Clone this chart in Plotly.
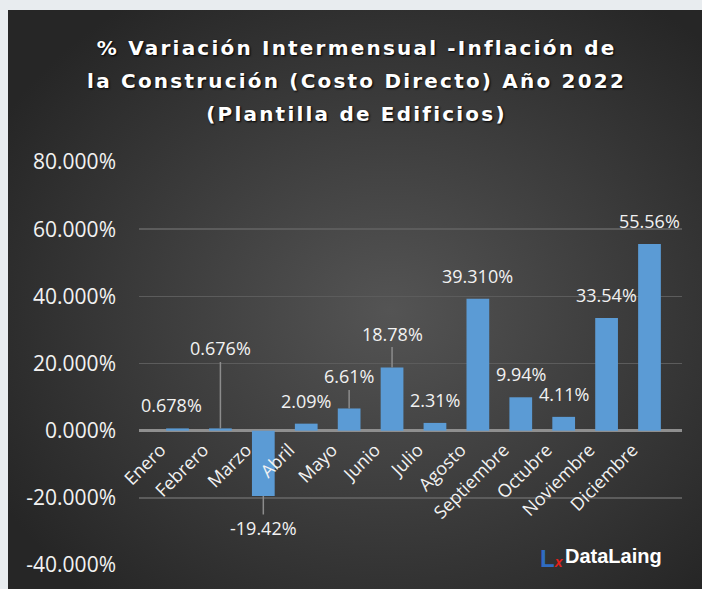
import base64
import plotly.graph_objects as go

# ---------------- data ----------------
months = ["Enero", "Febrero", "Marzo", "Abril", "Mayo", "Junio", "Julio",
          "Agosto", "Septiembre", "Octubre", "Noviembre", "Diciembre"]
variation_pct = [0.678, 0.676, -19.42, 2.09, 6.61, 18.78, 2.31,
                 39.31, 9.94, 4.11, 33.54, 55.56]
value_labels = ["0.678%", "0.676%", "-19.42%", "2.09%", "6.61%", "18.78%",
                "2.31%", "39.310%", "9.94%", "4.11%", "33.54%", "55.56%"]
y_ticks = [-40, -20, 0, 20, 40, 60, 80]
y_tick_labels = ["-40.000%", "-20.000%", "0.000%", "20.000%",
                 "40.000%", "60.000%", "80.000%"]
title_lines = ["% Variación Intermensual -Inflación de",
               "la Construción (Costo Directo) Año 2022",
               "(Plantilla de Edificios)"]

# ---------------- layout geometry (pixels) ----------------
W, H = 702, 589
L, R, T, B = 139, 20, 162, 24
PW, PH = W - L - R, H - T - B


def px_x(px):
    return (px - L) / PW


def px_y(py):
    return (H - B - py) / PH


# radial gradient panel background
svg = """<svg xmlns='http://www.w3.org/2000/svg' width='694' height='579' viewBox='0 0 694 579' preserveAspectRatio='none'>
<defs><radialGradient id='g' cx='55%' cy='52%' r='65%'>
<stop offset='0' stop-color='#545454'/>
<stop offset='1' stop-color='#262626'/>
</radialGradient></defs>
<rect width='694' height='579' fill='url(#g)'/></svg>"""
svg_uri = "data:image/svg+xml;base64," + base64.b64encode(svg.encode()).decode()

fig = go.Figure()
fig.add_trace(go.Bar(
    x=months, y=variation_pct,
    marker=dict(color="#5b9bd5", line=dict(width=0)),
    hoverinfo="skip",
))

# data labels
leader = {1: -80, 2: 32, 4: -32, 5: -34}
xshift = {0: -6}
annotations = []
for i, (m, v, lab) in enumerate(zip(months, variation_pct, value_labels)):
    if i in leader:
        annotations.append(dict(
            x=m, y=v, text=lab, showarrow=True, ax=0, ay=leader[i],
            arrowhead=0, arrowwidth=1.5, arrowcolor="#8c8c8c", standoff=0,
            font=dict(family="Open Sans", size=18, color="#f2f2f2")))
    else:
        annotations.append(dict(
            x=m, y=v, text=lab, showarrow=False, yanchor="middle",
            yshift=23, xshift=xshift.get(i, 0),
            font=dict(family="Open Sans", size=18, color="#f2f2f2")))

# title lines
for line, py in zip(title_lines, [48, 81, 114]):
    annotations.append(dict(
        xref="paper", yref="paper", x=px_x(356), y=px_y(py),
        text=f"<b>{line}</b>", showarrow=False, xanchor="center", yanchor="middle",
        font=dict(family="DejaVu Sans", size=20, color="#ffffff",
                  shadow="1px 1px 2px #000000")))

# logo
annotations.append(dict(
    xref="paper", yref="paper", x=px_x(539), y=px_y(558),
    text="<b><span style='color:#2f6cc2;font-size:24px'>L</span>"
         "<span style='color:#e3201b;font-size:14px'><i>x</i></span></b>",
    showarrow=False, xanchor="left", yanchor="middle", borderpad=0,
    font=dict(family="Liberation Sans", size=20, color="#ffffff")))
annotations.append(dict(
    xref="paper", yref="paper", x=px_x(564), y=px_y(556),
    text="<b>DataLaing</b>", showarrow=False, xanchor="left", yanchor="middle",
    borderpad=0,
    font=dict(family="Liberation Sans", size=20, color="#ffffff")))

fig.update_layout(
    width=W, height=H,
    margin=dict(l=L, r=R, t=T, b=B, pad=0),
    paper_bgcolor="#e8ecef",
    plot_bgcolor="rgba(0,0,0,0)",
    showlegend=False,
    bargap=0.47,
    annotations=annotations,
    images=[dict(source=svg_uri, xref="paper", yref="paper",
                 x=px_x(8), y=px_y(10), sizex=px_x(702) - px_x(8),
                 sizey=px_y(10) - px_y(589), xanchor="left", yanchor="top",
                 sizing="stretch", layer="below")],
    xaxis=dict(
        type="category", anchor="free", position=px_y(430),
        showgrid=False, showline=False, zeroline=False, ticks="",
        tickangle=-45, ticklabelstandoff=5, ticklabelshift=-17,
        tickfont=dict(family="Open Sans", size=18, color="#f2f2f2"),
    ),
    yaxis=dict(
        range=[-40, 80], tickvals=y_ticks, ticktext=y_tick_labels,
        showgrid=True, gridcolor="#5c5c5c", gridwidth=1.5,
        zeroline=True, zerolinecolor="#8f8f8f", zerolinewidth=3,
        showline=False, ticks="", ticklabelstandoff=22,
        tickfont=dict(family="Open Sans", size=21, color="#f2f2f2"),
    ),
)

post = """
document.body.style.margin = '0';
document.body.style.overflow = 'hidden';
function spaceTitle() {
  var gd = document.getElementById('{plot_id}');
  var anns = gd.querySelectorAll('g.annotation');
  anns.forEach(function (a) {
    var idx = parseInt(a.getAttribute('data-index'));
    if (idx >= 12 && idx <= 14) {
      var t = a.querySelector('text.annotation-text');
      if (t) { t.setAttribute('letter-spacing', '2.2px'); }
    }
  });
}
spaceTitle();
var gdd = document.getElementById('{plot_id}');
if (gdd && gdd.on) { gdd.on('plotly_afterplot', spaceTitle); }
setTimeout(spaceTitle, 50);
"""

fig.write_html("out.html", post_script=post,
               config={"displayModeBar": False, "staticPlot": True})
